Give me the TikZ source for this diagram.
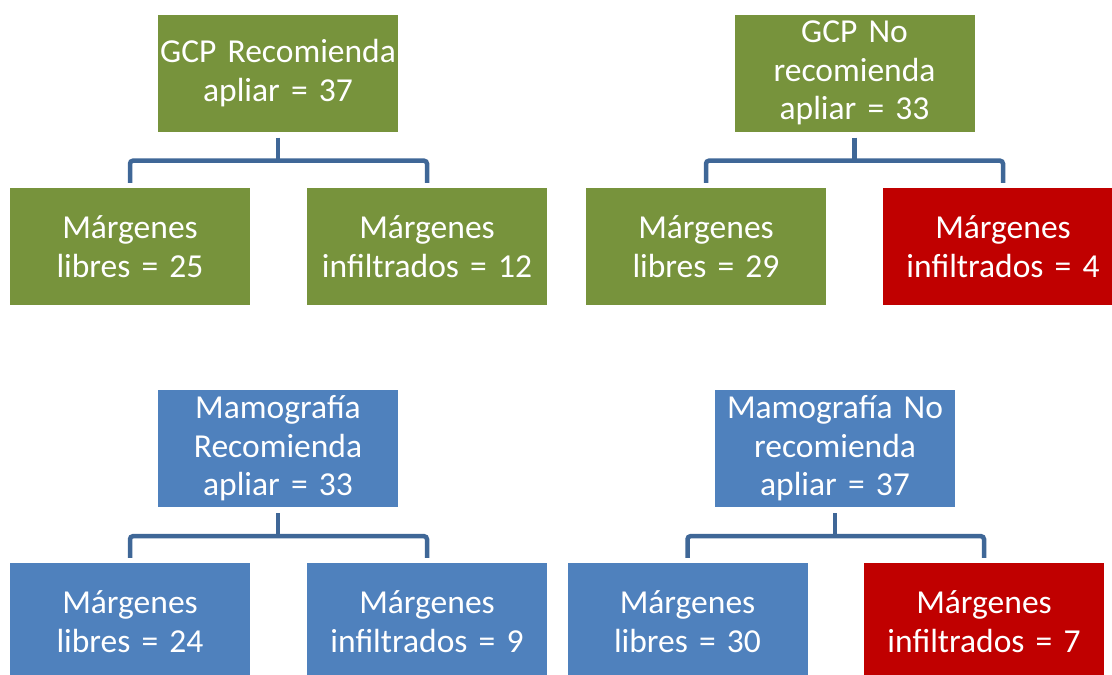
\documentclass[tikz,border=0pt]{standalone}
\usepackage{fontspec}
\setmainfont{Carlito}
\usetikzlibrary{calc}
\definecolor{cgreen}{HTML}{77933C}
\definecolor{cblue}{HTML}{4F81BD}
\definecolor{cred}{HTML}{C00000}
\definecolor{cline}{HTML}{3F6797}
\begin{document}
\begin{tikzpicture}[x=1pt,y=-1pt,
  box/.style={minimum width=240pt, minimum height=117pt, inner sep=0pt, text=white,
    align=center, text width=240pt, font=\fontsize{33.5}{38.5}\selectfont},
  gbox/.style={box, fill=cgreen},
  bbox/.style={box, fill=cblue},
  rbox/.style={box, fill=cred},
  conn/.style={draw=cline, line width=4.5pt, rounded corners=3pt}]
\useasboundingbox (0,0) rectangle (1112,675);
\begin{scope}
\clip (0,0) rectangle (1112,675);
% top left
\node[gbox] (r1) at (278,73) {GCP Recomienda\\apliar = 37};
\node[gbox] (a1) at (130,246.5) {Márgenes\\libres = 25};
\node[gbox] (b1) at (427,246.5) {Márgenes\\infiltrados = 12};
% top right
\node[gbox] (r2) at (854.5,73) {GCP No\\recomienda\\apliar = 33};
\node[gbox] (a2) at (706,246.5) {Márgenes\\libres = 29};
\node[rbox] (b2) at (1003,246.5) {Márgenes\\infiltrados = 4};
% bottom left
\node[bbox] (r3) at (278,448.5) {Mamografía\\Recomienda\\apliar = 33};
\node[bbox] (a3) at (130,621.5) {Márgenes\\libres = 24};
\node[bbox] (b3) at (427,621.5) {Márgenes\\infiltrados = 9};
% bottom right
\node[bbox] (r4) at (835,448.5) {Mamografía No\\recomienda\\apliar = 37};
\node[bbox] (a4) at (687.5,621.5) {Márgenes\\libres = 30};
\node[rbox] (b4) at (984,621.5) {Márgenes\\infiltrados = 7};
\end{scope}
% connectors
\foreach \r/\a/\b in {r1/a1/b1, r2/a2/b2, r3/a3/b3, r4/a4/b4}{
  \coordinate (\r-top) at ($(\r.south)+(0,6)$);
  \coordinate (\r-mid) at ($(\r.south)+(0,29)$);
  \coordinate (\a-end) at ($(\a.north)+(0,-5)$);
  \coordinate (\b-end) at ($(\b.north)+(0,-5)$);
  \draw[conn] (\r-top) -- (\r-mid);
  \draw[conn] (\a-end) |- (\r-mid) -| (\b-end);
}
\end{tikzpicture}
\end{document}
